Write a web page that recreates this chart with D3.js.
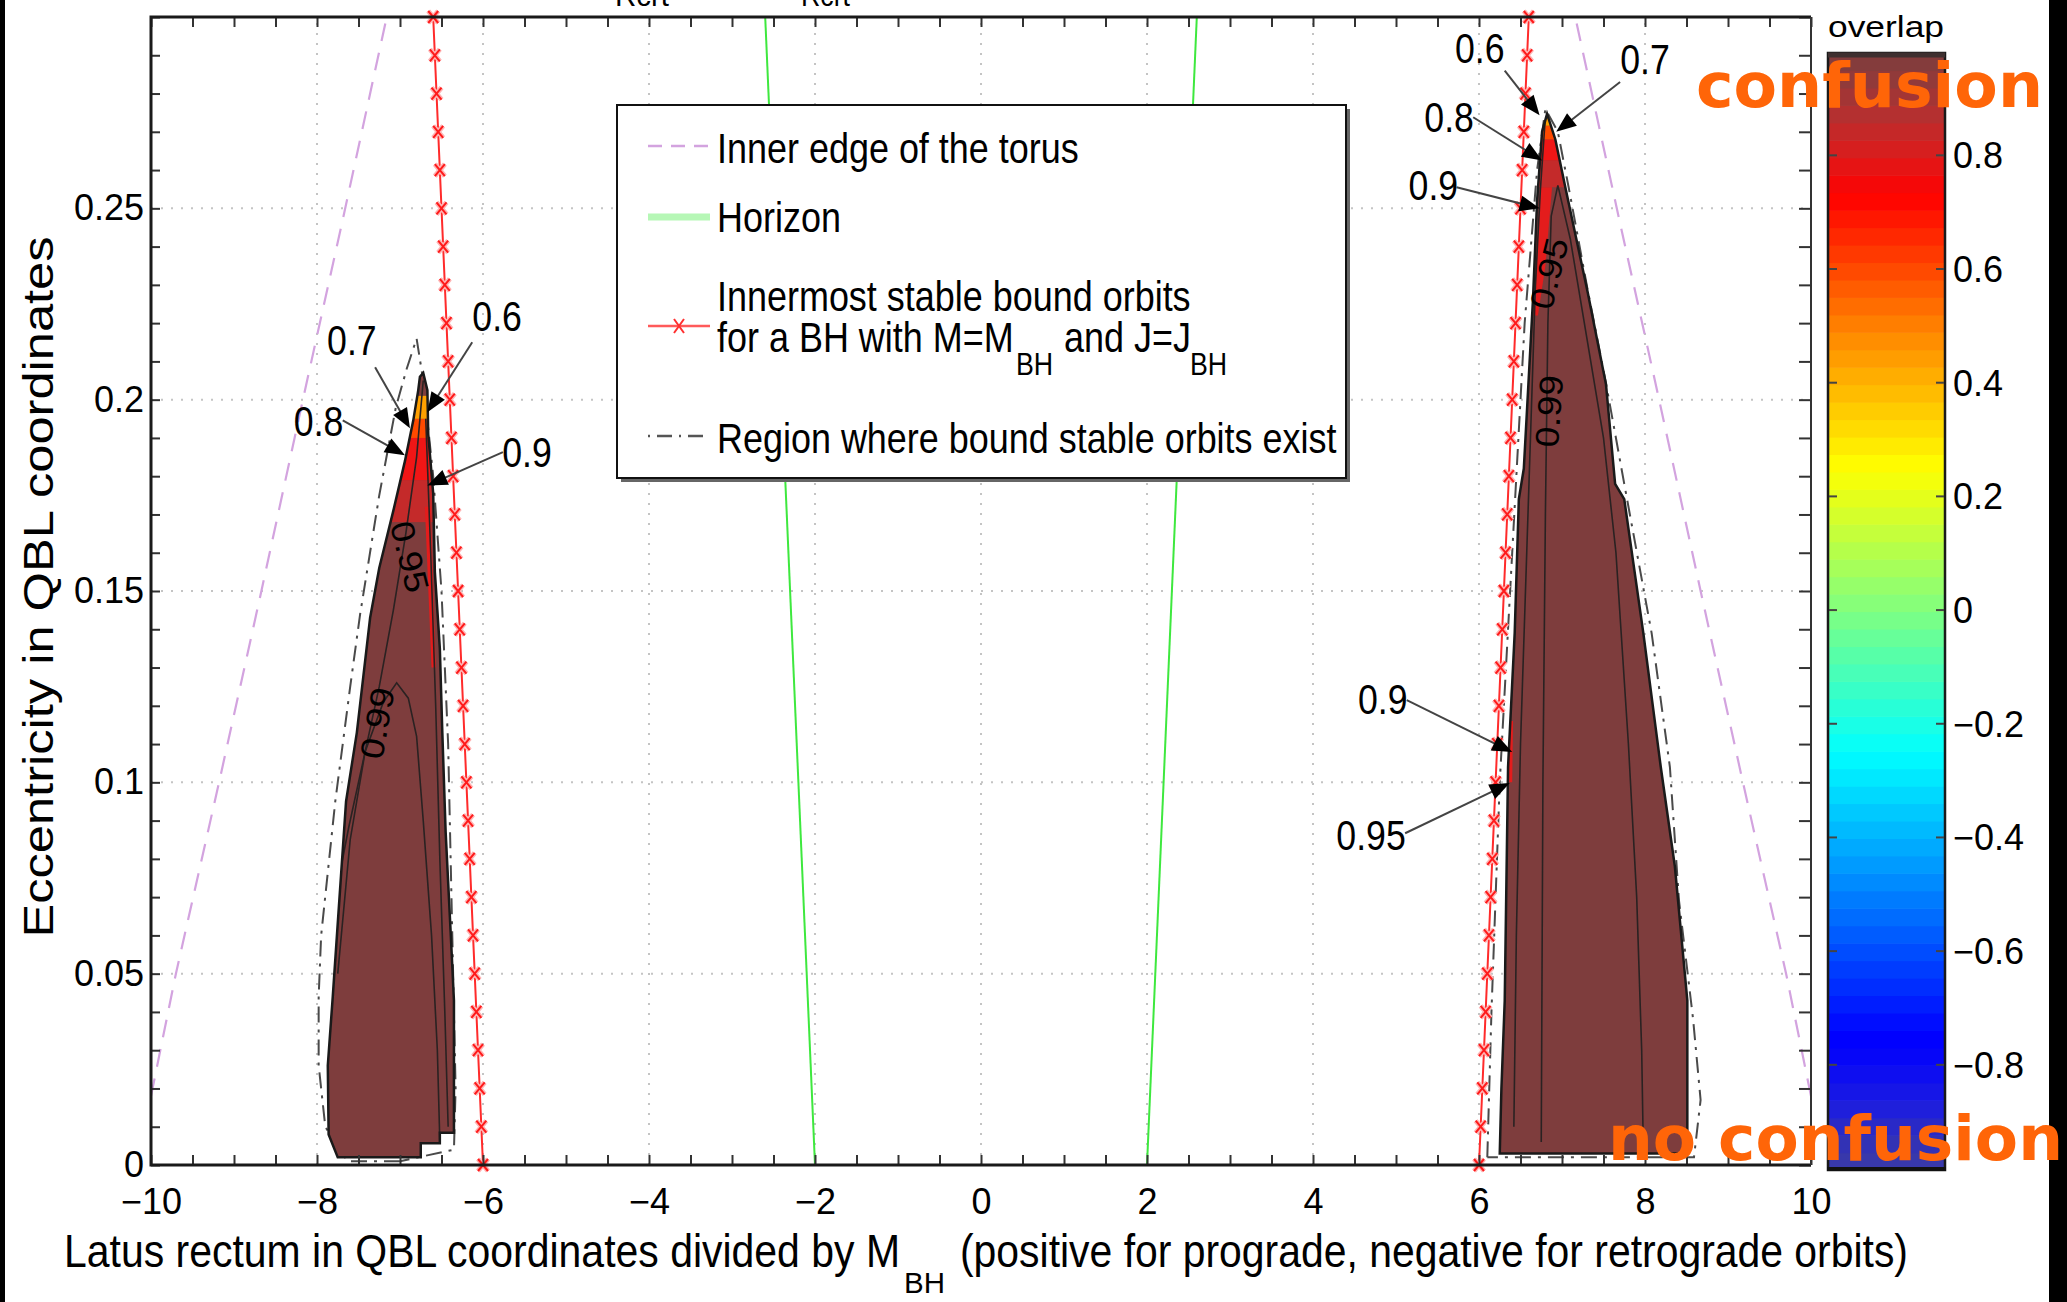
<!DOCTYPE html>
<html>
<head>
<meta charset="utf-8">
<style>
body { margin: 0; background: #fff; }
text { font-family: "Liberation Sans", Arial, sans-serif; fill: #000; }
.orange { font-family: "DejaVu Sans", sans-serif; font-weight: bold; fill: #ff6508; }
</style>
<script src="https://d3js.org/d3.v7.min.js"></script>
</head>
<body>
<svg id="chart" width="2067" height="1302"></svg>
<script>

// ---- data ----
var torusE = [0.018, 0.05, 0.10, 0.15, 0.20, 0.25, 0.30];
var torusP = [10.0, 9.70, 9.18, 8.67, 8.17, 7.66, 7.16];

var horizonE = [0, 0.30];
var horizonP = [2.0, 2.6];

var iscoE = [0, 0.01, 0.02, 0.03, 0.04, 0.05, 0.06, 0.07, 0.08, 0.09, 0.10,
             0.11, 0.12, 0.13, 0.14, 0.15, 0.16, 0.17, 0.18, 0.19, 0.20,
             0.21, 0.22, 0.23, 0.24, 0.25, 0.26, 0.27, 0.28, 0.29, 0.30];
var iscoP = [6.00, 6.02, 6.04, 6.06, 6.08, 6.10, 6.12, 6.14, 6.16, 6.18, 6.20,
             6.22, 6.24, 6.26, 6.28, 6.30, 6.32, 6.34, 6.36, 6.38, 6.40,
             6.42, 6.44, 6.46, 6.48, 6.50, 6.52, 6.54, 6.56, 6.58, 6.60];

// region where bound stable orbits exist (dash-dot), [p, e]
var stableLeft = [[-7.0,0.001],[-7.63,0.001],[-7.75,0.0047],[-7.90,0.010],[-7.98,0.026],[-7.98,0.044],
  [-7.95,0.06],[-7.78,0.095],[-7.60,0.125],[-7.48,0.144],[-7.25,0.175],[-7.05,0.198],[-6.92,0.208],
  [-6.80,0.216],[-6.72,0.205],[-6.60,0.18],[-6.50,0.15],[-6.42,0.11],[-6.37,0.06],[-6.33,0.02],[-6.35,0.004],[-7.0,0.001]];
var stableRight = [[6.10,0.002],[6.15,0.04],[6.25,0.10],[6.40,0.16],[6.55,0.22],[6.70,0.26],[6.80,0.276],
  [6.95,0.27],[7.08,0.2555],[7.31,0.2286],[7.53,0.2043],[7.75,0.178],[8.08,0.139],[8.30,0.104],
  [8.41,0.069],[8.58,0.038],[8.67,0.017],[8.59,0.002],[6.10,0.002]];

// overlap >= 0.95 filled regions
var regionLeft = [[-7.75,0.002],[-6.75,0.002],[-6.75,0.0057],[-6.52,0.0057],[-6.52,0.0084],[-6.35,0.0084],
  [-6.35,0.043],[-6.39,0.061],[-6.45,0.087],[-6.49,0.113],[-6.52,0.135],[-6.58,0.155],[-6.60,0.1755],
  [-6.66,0.191],[-6.67,0.2025],[-6.72,0.207],[-6.76,0.206],[-6.78,0.2025],[-6.84,0.1946],[-6.94,0.184],
  [-7.08,0.171],[-7.25,0.156],[-7.36,0.143],[-7.52,0.113],[-7.65,0.095],[-7.81,0.044],[-7.87,0.026],[-7.86,0.008]];
var regionRight = [[6.25,0.003],[8.51,0.003],[8.51,0.043],[8.36,0.078],[8.19,0.104],[7.98,0.139],
  [7.75,0.174],[7.64,0.178],[7.53,0.204],[7.31,0.228],[7.04,0.2555],[6.92,0.268],[6.82,0.2747],
  [6.76,0.27],[6.70,0.252],[6.65,0.226],[6.54,0.182],[6.48,0.174],[6.43,0.139],[6.35,0.104],[6.31,0.043],[6.27,0.02]];

// lower overlap levels near the tips (e ranges) and their colours
var leftBandLo  = [0.168, 0.179, 0.190, 0.195];
var leftBandHi  = [0.179, 0.190, 0.195, 0.201];
var rightBandLo = [0.2555, 0.2625, 0.268, 0.2716];
var rightBandHi = [0.2625, 0.268, 0.2716, 0.276];
var bandColors  = ['#c42a2a', '#f01616', '#ff4a00', '#ffa000'];

var stripesLeft  = [[[-6.70,0.172],[-6.63,0.172],[-6.57,0.13],[-6.62,0.13]]];
var stripesRight = [[[6.74,0.2555],[6.88,0.2555],[6.80,0.235],[6.71,0.222],[6.67,0.222]],
                    [[6.32,0.116],[6.41,0.116],[6.40,0.100],[6.31,0.100]]];

// contour lines inside the regions
var contoursLeft = [
  [[-6.72,0.205],[-6.80,0.185],[-6.93,0.165],[-7.08,0.145],[-7.25,0.125],[-7.45,0.105],[-7.62,0.088],[-7.78,0.07]],
  [[-6.69,0.195],[-6.63,0.16],[-6.57,0.12],[-6.52,0.08],[-6.46,0.04],[-6.42,0.01]],
  [[-7.75,0.05],[-7.6,0.085],[-7.42,0.108],[-7.2,0.121],[-7.04,0.126],[-6.9,0.122],[-6.8,0.112],
   [-6.72,0.09],[-6.62,0.06],[-6.55,0.03],[-6.52,0.006]]];
var contoursRight = [
  [[6.80,0.274],[6.74,0.255],[6.68,0.23],[6.62,0.19],[6.56,0.15],[6.50,0.11],[6.45,0.06],[6.42,0.01]],
  [[6.75,0.006],[6.77,0.1],[6.80,0.17],[6.83,0.22],[6.87,0.248],[6.95,0.256],[7.1,0.242],[7.3,0.216],
   [7.5,0.19],[7.65,0.16],[7.8,0.11],[7.9,0.07],[7.96,0.03],[7.98,0.004]]];

// inline contour labels: text, [p, e], angle
var contourLabels = [
  {t: '0.95', at: [-6.88, 0.159], a: 76},
  {t: '0.99', at: [-7.28, 0.1155], a: -80},
  {t: '0.95', at: [6.84, 0.233], a: -76},
  {t: '0.99', at: [6.84, 0.197], a: -86}
];

// arrow annotations: label, label centre, arrow tail, arrow tip (all [p, e])
var annotations = [
  {t: '0.7', at: [-7.58, 0.2155], from: [-7.30, 0.2085], to: [-6.88, 0.1925]},
  {t: '0.6', at: [-5.83, 0.222],  from: [-6.13, 0.215],  to: [-6.67, 0.1967]},
  {t: '0.8', at: [-7.98, 0.1944], from: [-7.69, 0.1946], to: [-6.94, 0.1855]},
  {t: '0.9', at: [-5.47, 0.1863], from: [-5.76, 0.1863], to: [-6.67, 0.1776]},
  {t: '0.6', at: [6.01, 0.292],   from: [6.31, 0.286],   to: [6.73, 0.2743]},
  {t: '0.7', at: [8.00, 0.289],   from: [7.70, 0.283],   to: [6.93, 0.270]},
  {t: '0.8', at: [5.64, 0.2738],  from: [5.93, 0.2738],  to: [6.76, 0.2625]},
  {t: '0.9', at: [5.45, 0.256],   from: [5.73, 0.2555],  to: [6.73, 0.250]},
  {t: '0.9', at: [4.84, 0.1217],  from: [5.13, 0.1215],  to: [6.40, 0.1079]},
  {t: '0.95', at: [4.70, 0.0862], from: [5.11, 0.0867],  to: [6.37, 0.0998]}
];

var xMajor = [-10, -8, -6, -4, -2, 0, 2, 4, 6, 8, 10];
var yMajor = [0, 0.05, 0.1, 0.15, 0.2, 0.25];
var cbTicks = [0.8, 0.6, 0.4, 0.2, 0, -0.2, -0.4, -0.6, -0.8];

var cmapV = [-0.985, -0.93, -0.87, -0.78, -0.75, -0.5, -0.25, 0, 0.25, 0.5, 0.73, 0.8, 0.88, 0.94, 0.98];
var cmapC = ['#3b3ba6', '#3030b8', '#1c1ce0', '#0505fa', '#0000ff', '#0080ff', '#00ffff', '#80ff80',
             '#ffff00', '#ff8000', '#ff0000', '#dc1c1c', '#b03232', '#8e3b3b', '#7e3d3d'];
var cbLo = -0.985, cbHi = 0.98;

var legendLabels = ['Inner edge of the torus', 'Horizon', 'Innermost stable bound orbits',
                    'Region where bound stable orbits exist'];

// ---- drawing ----
var svg = d3.select('#chart');
var W = 2067, H = 1302;

var x = d3.scaleLinear().domain([-10, 10]).range([151, 1811]);
var y = d3.scaleLinear().domain([0, 0.3]).range([1165, 17]);
var cmap = d3.scaleLinear().domain(cmapV).range(cmapC).clamp(true);

function squeeze(sel, k) {
  sel.each(function() {
    var w = this.getComputedTextLength();
    d3.select(this).attr('textLength', w * k).attr('lengthAdjust', 'spacingAndGlyphs');
  });
}

svg.append('rect').attr('width', W).attr('height', H).attr('fill', '#fff');

var defs = svg.append('defs');
defs.append('clipPath').attr('id', 'clip-plot').append('rect')
  .attr('x', x(-10)).attr('y', y(0.3)).attr('width', x(10) - x(-10)).attr('height', y(0) - y(0.3));

var pline = d3.line().x(function(d) { return x(d[0]); }).y(function(d) { return y(d[1]); });

// grid
var grid = svg.append('g').attr('stroke', '#c4c4c4').attr('stroke-width', 2).attr('stroke-dasharray', '2,8');
grid.selectAll('.gx').data(xMajor.slice(1, -1)).enter().append('line')
  .attr('x1', function(d) { return x(d); }).attr('x2', function(d) { return x(d); })
  .attr('y1', y(0)).attr('y2', y(0.3));
grid.selectAll('.gy').data(yMajor.slice(1)).enter().append('line')
  .attr('y1', function(d) { return y(d); }).attr('y2', function(d) { return y(d); })
  .attr('x1', x(-10)).attr('x2', x(10));

var plot = svg.append('g').attr('clip-path', 'url(#clip-plot)');

// torus inner edge
[-1, 1].forEach(function(s) {
  var pts = torusE.map(function(e, i) { return [s * torusP[i], e]; });
  plot.append('path').attr('d', pline(pts)).attr('fill', 'none')
    .attr('stroke', '#d3a3df').attr('stroke-width', 2.2).attr('stroke-dasharray', '18,12');
});

// horizon
[-1, 1].forEach(function(s) {
  var pts = horizonE.map(function(e, i) { return [s * horizonP[i], e]; });
  plot.append('path').attr('d', pline(pts)).attr('fill', 'none')
    .attr('stroke', '#3ee83e').attr('stroke-width', 2);
});

// region where bound stable orbits exist
[stableLeft, stableRight].forEach(function(pts) {
  plot.append('path').attr('d', pline(pts)).attr('fill', 'none')
    .attr('stroke', '#4a4a4a').attr('stroke-width', 2).attr('stroke-dasharray', '16,7,3,7');
});

// filled overlap regions
var regions = [
  {id: 'clip-L', outline: regionLeft, lo: leftBandLo, hi: leftBandHi, stripes: stripesLeft, contours: contoursLeft},
  {id: 'clip-R', outline: regionRight, lo: rightBandLo, hi: rightBandHi, stripes: stripesRight, contours: contoursRight}
];
regions.forEach(function(r) {
  defs.append('clipPath').attr('id', r.id).append('path').attr('d', pline(r.outline) + 'Z');
  plot.append('path').attr('d', pline(r.outline) + 'Z').attr('fill', cmap(0.98));
  var g = plot.append('g').attr('clip-path', 'url(#' + r.id + ')');
  r.lo.forEach(function(lo, i) {
    g.append('rect').attr('x', x(-10)).attr('width', x(10) - x(-10))
      .attr('y', y(r.hi[i])).attr('height', y(lo) - y(r.hi[i])).attr('fill', bandColors[i]);
  });
  r.stripes.forEach(function(s) {
    g.append('path').attr('d', pline(s) + 'Z').attr('fill', '#e41c1c');
  });
  r.contours.forEach(function(c) {
    g.append('path').attr('d', pline(c)).attr('fill', 'none').attr('stroke', '#2a2222').attr('stroke-width', 1.6);
  });
  plot.append('path').attr('d', pline(r.outline) + 'Z').attr('fill', 'none')
    .attr('stroke', '#1a1a1a').attr('stroke-width', 2.5);
});

// innermost stable bound orbits (red with x markers)
[-1, 1].forEach(function(s) {
  var pts = iscoE.map(function(e, i) { return [s * iscoP[i], e]; });
  svg.append('path').attr('d', pline(pts)).attr('fill', 'none')
    .attr('stroke', '#ff2b2b').attr('stroke-width', 2);
  var m = svg.append('g').selectAll('g').data(pts).enter().append('g')
    .attr('transform', function(d) { return 'translate(' + x(d[0]) + ',' + y(d[1]) + ')'; });
  m.append('path').attr('d', 'M-5,-6L5,6M-5,6L5,-6').attr('stroke', '#ffb4b4').attr('stroke-width', 5);
  m.append('path').attr('d', 'M-5,-6L5,6M-5,6L5,-6').attr('stroke', '#ff1a1a').attr('stroke-width', 2);
});

// contour labels
contourLabels.forEach(function(c) {
  var t = svg.append('text')
    .attr('transform', 'translate(' + x(c.at[0]) + ',' + y(c.at[1]) + ') rotate(' + c.a + ')')
    .attr('text-anchor', 'middle').attr('dy', '0.36em').attr('font-size', 33).text(c.t);
  t.attr('textLength', 72).attr('lengthAdjust', 'spacingAndGlyphs');
});

// arrow annotations
annotations.forEach(function(a) {
  var x0 = x(a.from[0]), y0 = y(a.from[1]), x1 = x(a.to[0]), y1 = y(a.to[1]);
  var dx = x1 - x0, dy = y1 - y0, L = Math.sqrt(dx * dx + dy * dy);
  var ux = dx / L, uy = dy / L, hl = 20, hw = 8;
  svg.append('line').attr('x1', x0).attr('y1', y0).attr('x2', x1 - ux * hl * 0.6).attr('y2', y1 - uy * hl * 0.6)
    .attr('stroke', '#444').attr('stroke-width', 2);
  var bx = x1 - ux * hl, by = y1 - uy * hl;
  svg.append('path').attr('d', 'M' + x1 + ',' + y1 + 'L' + (bx - uy * hw) + ',' + (by + ux * hw) +
      'L' + (bx + uy * hw) + ',' + (by - ux * hw) + 'Z').attr('fill', '#000');
  var t = svg.append('text').attr('x', x(a.at[0])).attr('y', y(a.at[1])).attr('dy', '0.36em')
    .attr('text-anchor', 'middle').attr('font-size', 42).text(a.t);
  squeeze(t, 0.85);
});

// axes
var xMinor = d3.range(-10, 10.001, 0.5);
var yMinor = d3.range(0, 0.3001, 0.01);
function isMajorX(d) { return xMajor.some(function(v) { return Math.abs(v - d) < 1e-6; }); }
function isMajorY(d) { return yMajor.some(function(v) { return Math.abs(v - d) < 1e-6; }); }
var fmt = d3.format('');

svg.append('g').attr('transform', 'translate(0,' + y(0) + ')')
  .call(d3.axisBottom(x).tickValues(xMinor).tickSize(-10).tickSizeOuter(0).tickPadding(23)
    .tickFormat(function(d) { return isMajorX(d) ? fmt(d) : ''; }));
svg.append('g').attr('transform', 'translate(0,' + y(0.3) + ')')
  .call(d3.axisTop(x).tickValues(xMinor).tickSize(-10).tickSizeOuter(0).tickFormat(''));
svg.append('g').attr('transform', 'translate(' + x(-10) + ',0)')
  .call(d3.axisLeft(y).tickValues(yMinor).tickSize(-9).tickSizeOuter(0).tickPadding(7)
    .tickFormat(function(d) { return isMajorY(d) ? String(+d.toFixed(2)) : ''; }));
svg.append('g').attr('transform', 'translate(' + x(10) + ',0)')
  .call(d3.axisRight(y).tickValues(yMinor).tickSize(-12).tickSizeOuter(0).tickFormat(''));
svg.selectAll('.domain').remove();
svg.selectAll('.tick line').attr('stroke', '#333').attr('stroke-width', 2);
svg.selectAll('.tick text').attr('font-size', 36).attr('font-family', '"Liberation Sans", Arial, sans-serif').attr('fill', '#000');

// frame
svg.append('path').attr('d', 'M' + x(10) + ',' + y(0.3) + 'H' + x(-10) + 'V' + y(0) + 'H' + x(10))
  .attr('fill', 'none').attr('stroke', '#1a1a1a').attr('stroke-width', 3);
svg.append('line').attr('x1', x(10)).attr('x2', x(10)).attr('y1', y(0.3)).attr('y2', y(0))
  .attr('stroke', '#333').attr('stroke-width', 2);

// axis labels
svg.append('text').attr('x', 64).attr('y', 1267).attr('font-size', 47)
  .attr('textLength', 836).attr('lengthAdjust', 'spacingAndGlyphs')
  .text('Latus rectum in QBL coordinates divided by M');
svg.append('text').attr('x', 904).attr('y', 1293).attr('font-size', 30)
  .attr('textLength', 41).attr('lengthAdjust', 'spacingAndGlyphs').text('BH');
svg.append('text').attr('x', 960).attr('y', 1267).attr('font-size', 47)
  .attr('textLength', 948).attr('lengthAdjust', 'spacingAndGlyphs')
  .text('(positive for prograde, negative for retrograde orbits)');
svg.append('text').attr('transform', 'translate(53,587) rotate(-90)').attr('text-anchor', 'middle')
  .attr('font-size', 43).attr('textLength', 701).attr('lengthAdjust', 'spacingAndGlyphs')
  .text('Eccentricity in QBL coordinates');

// clipped title remnants at the very top
svg.append('text').attr('x', 615).attr('y', 6).attr('font-size', 30)
  .attr('textLength', 54).attr('lengthAdjust', 'spacingAndGlyphs').text('Rcrt');
svg.append('text').attr('x', 801).attr('y', 6).attr('font-size', 30)
  .attr('textLength', 49).attr('lengthAdjust', 'spacingAndGlyphs').text('Rcrt');

// legend
var lg = svg.append('g');
lg.append('rect').attr('x', 621).attr('y', 109).attr('width', 729).attr('height', 373).attr('fill', '#666');
lg.append('rect').attr('x', 617).attr('y', 105).attr('width', 729).attr('height', 373)
  .attr('fill', '#fff').attr('stroke', '#111').attr('stroke-width', 2);
var lgY = [146, 217, 326, 436];
var lgBase = [163, 232, 311, 453];
lg.append('line').attr('x1', 648).attr('x2', 710).attr('y1', lgY[0]).attr('y2', lgY[0])
  .attr('stroke', '#d3a3df').attr('stroke-width', 2.5).attr('stroke-dasharray', '14,9');
lg.append('line').attr('x1', 648).attr('x2', 710).attr('y1', lgY[1]).attr('y2', lgY[1])
  .attr('stroke', '#b6f7b6').attr('stroke-width', 7);
lg.append('line').attr('x1', 648).attr('x2', 710).attr('y1', lgY[2]).attr('y2', lgY[2])
  .attr('stroke', '#ff5a5a').attr('stroke-width', 2.5);
lg.append('path').attr('transform', 'translate(679,' + lgY[2] + ')')
  .attr('d', 'M-5,-7L5,7M-5,7L5,-7').attr('stroke', '#ff3030').attr('stroke-width', 2);
lg.append('line').attr('x1', 648).attr('x2', 710).attr('y1', lgY[3]).attr('y2', lgY[3])
  .attr('stroke', '#555').attr('stroke-width', 2.5).attr('stroke-dasharray', '2,7,15,7');
legendLabels.forEach(function(s, i) {
  var t = lg.append('text').attr('x', 717).attr('y', lgBase[i]).attr('font-size', 43).text(s);
  squeeze(t, 0.836);
});
var l2 = [['for a BH with M=M', 717, 352, 43], ['BH', 1016, 375, 32], ['and J=J', 1064, 352, 43], ['BH', 1190, 375, 32]];
l2.forEach(function(p) {
  var t = lg.append('text').attr('x', p[1]).attr('y', p[2]).attr('font-size', p[3]).text(p[0]);
  squeeze(t, 0.836);
});

// colorbar
var cbY = d3.scaleLinear().domain([cbLo, cbHi]).range([1170, 53]);
var nb = 64, step = (cbHi - cbLo) / nb;
var cb = svg.append('g');
cb.selectAll('rect').data(d3.range(nb)).enter().append('rect')
  .attr('x', 1828).attr('width', 117)
  .attr('y', function(i) { return cbY(cbLo + (i + 1) * step); })
  .attr('height', function(i) { return cbY(cbLo + i * step) - cbY(cbLo + (i + 1) * step) + 0.6; })
  .attr('fill', function(i) { return cmap(cbLo + (i + 0.5) * step); });
cb.append('rect').attr('x', 1828).attr('y', 53).attr('width', 117).attr('height', 1117)
  .attr('fill', 'none').attr('stroke', '#1a1a1a').attr('stroke-width', 2.5);
cb.append('line').attr('x1', 1828).attr('x2', 1945).attr('y1', 55).attr('y2', 55)
  .attr('stroke', '#3f3030').attr('stroke-width', 5);
cb.append('line').attr('x1', 1827).attr('x2', 1946).attr('y1', 1169).attr('y2', 1169)
  .attr('stroke', '#111').attr('stroke-width', 4);
cbTicks.forEach(function(v) {
  cb.append('line').attr('x1', 1829).attr('x2', 1837).attr('y1', cbY(v)).attr('y2', cbY(v))
    .attr('stroke', '#444').attr('stroke-width', 2);
  cb.append('line').attr('x1', 1936).attr('x2', 1944).attr('y1', cbY(v)).attr('y2', cbY(v))
    .attr('stroke', '#444').attr('stroke-width', 2);
  cb.append('text').attr('x', 1953).attr('y', cbY(v)).attr('dy', '0.36em').attr('font-size', 36)
    .text(fmt(v));
});
cb.append('text').attr('x', 1828).attr('y', 37).attr('font-size', 29)
  .attr('textLength', 116).attr('lengthAdjust', 'spacingAndGlyphs').text('overlap');

// black edges of the screenshot
svg.append('rect').attr('x', 0).attr('y', 0).attr('width', 5).attr('height', H).attr('fill', '#000');
svg.append('rect').attr('x', 2049).attr('y', 0).attr('width', 18).attr('height', H).attr('fill', '#000');

// overlaid captions
svg.append('text').attr('class', 'orange').attr('x', 1696).attr('y', 107).attr('font-size', 63)
  .attr('textLength', 347).attr('lengthAdjust', 'spacingAndGlyphs').text('confusion');
svg.append('text').attr('class', 'orange').attr('x', 1608).attr('y', 1160).attr('font-size', 63)
  .attr('textLength', 455).attr('lengthAdjust', 'spacingAndGlyphs').text('no confusion');

</script>
</body>
</html>
